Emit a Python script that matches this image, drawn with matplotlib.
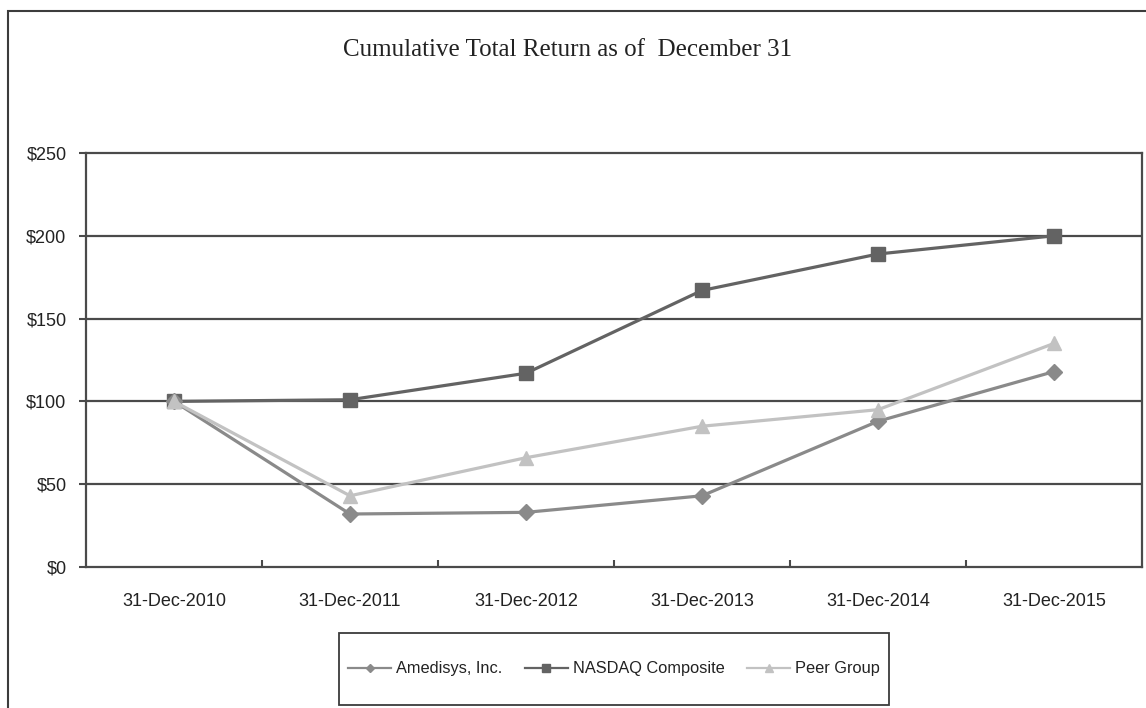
import matplotlib
matplotlib.use("Agg")
import matplotlib.pyplot as plt
from matplotlib.lines import Line2D
from matplotlib.patches import Rectangle

# data
years = ["31-Dec-2010", "31-Dec-2011", "31-Dec-2012",
         "31-Dec-2013", "31-Dec-2014", "31-Dec-2015"]
amedisys = [100, 32, 33, 43, 88, 118]
nasdaq = [100, 101, 117, 167, 189, 200]
peer = [100, 43, 66, 85, 95, 135]
y_ticks = [0, 50, 100, 150, 200, 250]
y_labels = ["$0", "$50", "$100", "$150", "$200", "$250"]

W, H = 1146, 708
AMED_C = "#8a8a8a"
NASD_C = "#636363"
PEER_C = "#c2c2c2"
GRID_C = "#4a4a4a"

plt.rcParams["font.family"] = ["Liberation Sans", "DejaVu Sans"]

fig = plt.figure(figsize=(W / 100, H / 100), dpi=100)
fig.patch.set_facecolor("white")

# outer frame (right and bottom edges cut off in the reference)
fig.patches.append(Rectangle((8 / W, -0.1), 1.2, 1 - 11 / H + 0.1,
                             transform=fig.transFigure, fill=False,
                             edgecolor="#3c3c3c", linewidth=1.5))

ax = fig.add_axes([86 / W, 1 - 567 / H, (1142 - 86) / W, (567 - 153) / H])

x = list(range(len(years)))
ax.plot(x, nasdaq, color=NASD_C, lw=2.3, marker="s", ms=10, zorder=3)
ax.plot(x, amedisys, color=AMED_C, lw=2.3, marker="D", ms=8, zorder=4)
ax.plot(x, peer, color=PEER_C, lw=2.3, marker="^", ms=10, zorder=5)

ax.set_xlim(-0.5, len(years) - 0.5)
ax.set_ylim(0, 250)
ax.set_yticks(y_ticks)
ax.set_yticklabels(y_labels)
ax.set_xticks(x)
ax.set_xticklabels(years)
ax.set_xticks([i + 0.5 for i in x[:-1]], minor=True)

ax.tick_params(axis="x", which="major", length=0, pad=19, labelsize=13,
               labelcolor="#222222")
ax.tick_params(axis="x", which="minor", direction="in", length=5,
               width=1.5, color=GRID_C)
ax.tick_params(axis="y", direction="out", length=5, width=1.5,
               color=GRID_C, pad=9, labelsize=13, labelcolor="#222222")

for y in y_ticks[1:-1]:
    ax.axhline(y, color=GRID_C, lw=1.6, zorder=1)
for s in ax.spines.values():
    s.set_color(GRID_C)
    s.set_linewidth(1.6)

fig.text(568 / W, 1 - 50 / H, "Cumulative Total Return as of  December 31",
         ha="center", va="center", fontsize=18,
         family=["Liberation Serif", "DejaVu Serif"], color="#222222")

# legend box
fig.patches.append(Rectangle((339 / W, 1 - 705 / H), 550 / W, 72 / H,
                             transform=fig.transFigure, fill=False,
                             edgecolor="#3c3c3c", linewidth=1.3))
handles = [
    Line2D([], [], color=AMED_C, lw=1.6, marker="D", ms=4.5),
    Line2D([], [], color=NASD_C, lw=1.6, marker="s", ms=5.5),
    Line2D([], [], color=PEER_C, lw=1.6, marker="^", ms=5.5),
]
fig.legend(handles, ["Amedisys, Inc.", "NASDAQ Composite", "Peer Group"],
           loc="center", bbox_to_anchor=(614 / W, 1 - 669 / H), ncol=3,
           frameon=False, fontsize=11.8, handlelength=2.6, handletextpad=0.3,
           columnspacing=1.4, labelcolor="#222222")

fig.savefig("out.png", dpi=100)
